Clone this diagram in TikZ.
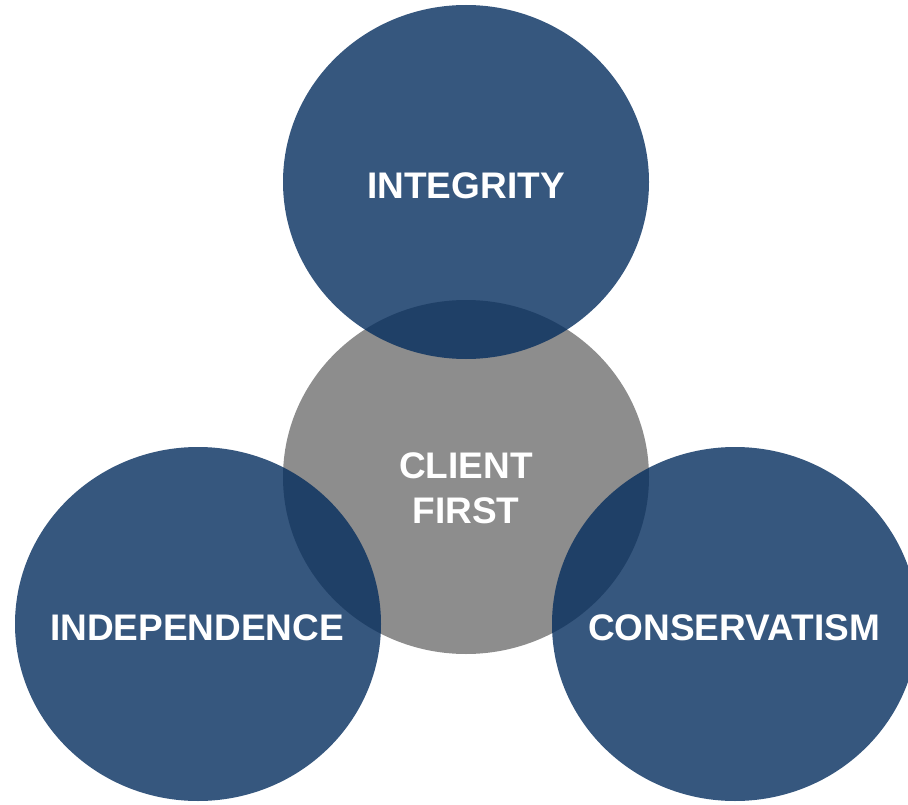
\documentclass[tikz,border=0pt]{standalone}
\usepackage{fontspec}
\setmainfont{Liberation Sans}
\usetikzlibrary{shapes.geometric}
\definecolor{navy}{RGB}{4,45,94}
\definecolor{midgray}{RGB}{141,141,141}
\tikzset{
  disc/.style={ellipse, minimum width=366pt, minimum height=354pt, inner sep=0pt},
  word/.style={text=white, inner sep=0pt, align=center,
               font=\fontsize{37}{45}\selectfont\bfseries}
}
\begin{document}
\begin{tikzpicture}[x=1pt,y=-1pt]
\useasboundingbox (0,0) rectangle (908,805);
% grey one first, the blue ones go over it
\node[disc, fill=midgray] (client) at (466,477) {};
\scope[fill opacity=0.8]
\node[disc, fill=navy] (integrity) at (466,182) {};
\node[disc, fill=navy] (independence) at (198,624) {};
\node[disc, fill=navy] (conservatism) at (735,624) {};
\endscope
% labels
\node[word] (integritytxt) at (466,186) {INTEGRITY};
\node[word] (clienttxt) at (466,488) {CLIENT\\FIRST};
\node[word] (independencetxt) at (197,628) {INDEPENDENCE};
\node[word] (conservatismtxt) at (734,628) {CONSERVATISM};
\end{tikzpicture}
\end{document}
